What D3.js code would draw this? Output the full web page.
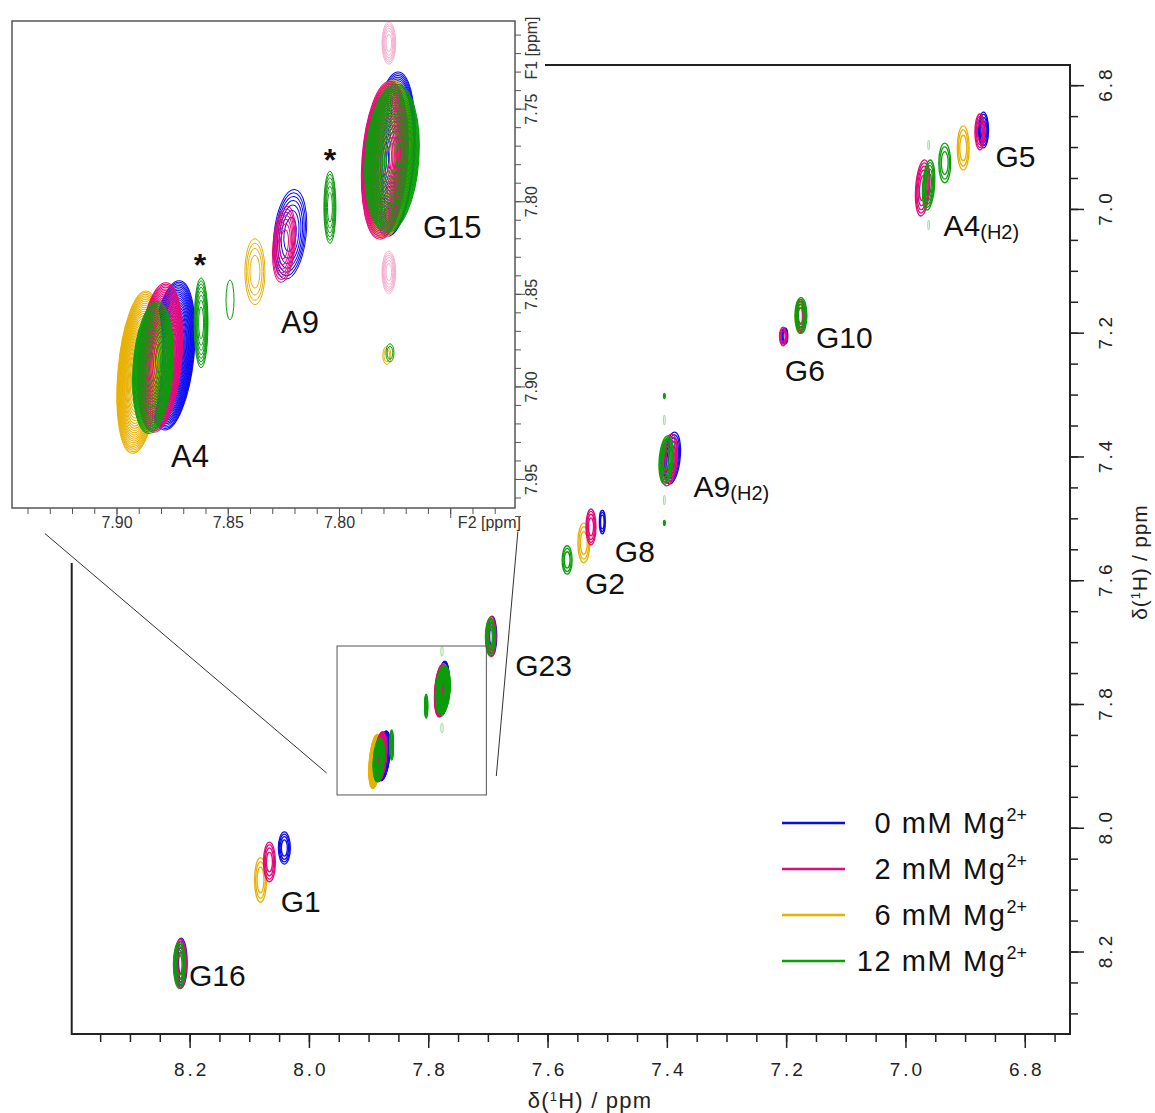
<!DOCTYPE html>
<html>
<head>
<meta charset="utf-8">
<script src="https://cdn.jsdelivr.net/npm/d3@7"></script>
<style>
body { margin: 0; background: #fff; }
svg { font-family: Arial, "Liberation Sans", Helvetica, sans-serif; }
</style>
</head>
<body>
<svg id="chart" width="1155" height="1113"></svg>
<script>

//////////////////////////////////////////////////////////////////////////////
// Data (ppm)

var conditions = ["0", "2", "6", "12"];
var colors = ["#0a0af0", "#e6087c", "#e8b000", "#0a9e0a"];
var drawOrder = [0, 2, 1, 3];

// peak: [F2 ppm, F1 ppm, half width F2, half width F1, tilt deg, levels, shown in main]
var mg0Peaks = [
    [6.870, 6.8716, 0.0084, 0.029, 0, 4, 1],
    [7.203, 7.2045, 0.0050, 0.013, 0, 3, 1],
    [7.392, 7.4017, 0.0134, 0.042, 6, 5, 1],
    [7.509, 7.5051, 0.0050, 0.019, 0, 3, 1],
    [7.694, 7.6893, 0.0080, 0.032, 0, 4, 1],
    [7.7760, 7.7743, 0.0099, 0.0444, 4, 25, 1],
    [7.8222, 7.8176, 0.0072, 0.0243, 6, 7, 0],
    [7.8753, 7.8830, 0.0099, 0.0405, 6, 25, 1],
    [8.042, 8.0319, 0.0100, 0.026, 0, 4, 1],
    [8.215, 8.2177, 0.0100, 0.040, 0, 5, 1]
];
var mg2Peaks = [
    [6.876, 6.8748, 0.0084, 0.029, 0, 4, 1],
    [6.972, 6.9653, 0.0117, 0.0454, 4, 5, 1],
    [7.177, 7.1722, 0.0080, 0.027, 0, 4, 1],
    [7.206, 7.2053, 0.0060, 0.015, 0, 3, 1],
    [7.397, 7.4049, 0.0134, 0.042, 6, 5, 1],
    [7.528, 7.5131, 0.0084, 0.029, 0, 4, 1],
    [7.695, 7.6901, 0.0080, 0.032, 0, 4, 1],
    [7.7796, 7.7776, 0.0103, 0.0427, 4, 25, 1],
    [7.8249, 7.8230, 0.0050, 0.0206, 5, 7, 0],
    [7.8807, 7.8841, 0.0099, 0.0405, 5, 25, 1],
    [8.067, 8.0545, 0.0100, 0.032, 0, 4, 1],
    [8.216, 8.2190, 0.0100, 0.040, 0, 5, 1]
];
var mg6Peaks = [
    [6.904, 6.9007, 0.0100, 0.0357, 0, 3, 1],
    [7.178, 7.1730, 0.0080, 0.027, 0, 4, 1],
    [7.540, 7.5390, 0.0100, 0.032, 0, 3, 1],
    [7.696, 7.6910, 0.0080, 0.032, 0, 4, 1],
    [7.7782, 7.7770, 0.0108, 0.0427, 4, 25, 1],
    [7.8380, 7.8378, 0.0045, 0.0178, 0, 4, 0],
    [7.8900, 7.8920, 0.0096, 0.0440, 5, 25, 1],
    [7.7787, 7.8830, 0.0018, 0.0049, 0, 2, 0],
    [8.082, 8.0836, 0.0100, 0.036, 0, 3, 1]
];
var mg12Peaks = [
    [6.935, 6.9249, 0.0100, 0.032, 0, 3, 1],
    [6.962, 6.9605, 0.0100, 0.0405, 4, 5, 1],
    [7.176, 7.1714, 0.0100, 0.029, 0, 5, 1],
    [7.402, 7.4049, 0.0117, 0.039, 4, 6, 1],
    [7.405, 7.3015, 0.0015, 0.004, 0, 2, 1],
    [7.405, 7.5067, 0.0015, 0.004, 0, 2, 1],
    [7.568, 7.5665, 0.0084, 0.023, 0, 3, 1],
    [7.697, 7.6909, 0.0080, 0.030, 0, 5, 1],
    [7.7764, 7.7765, 0.0121, 0.0400, 4, 25, 1],
    [7.8043, 7.8030, 0.0027, 0.0195, 0, 6, 1],
    [7.8492, 7.8530, 0.0018, 0.0108, 0, 1, 0],
    [7.8622, 7.8654, 0.0031, 0.0243, 0, 8, 1],
    [7.8838, 7.8895, 0.0090, 0.0357, 4, 22, 1],
    [7.7773, 7.8816, 0.0018, 0.0049, 0, 2, 0],
    [8.218, 8.2207, 0.0100, 0.038, 0, 5, 1]
];
var peakSets = [mg0Peaks, mg2Peaks, mg6Peaks, mg12Peaks];

// weak side bands
var insetSidebands = [
    [7.7778, 7.7143, 0.0031, 0.0114, 0, 6],
    [7.7778, 7.8381, 0.0031, 0.0114, 0, 6]
];
var mainSidebands = [
    [7.7778, 7.7143, 0.0020, 0.008, 0, 1],
    [7.7778, 7.8381, 0.0020, 0.008, 0, 1],
    [6.962, 6.8958, 0.0015, 0.008, 0, 1],
    [6.962, 7.0251, 0.0015, 0.008, 0, 1],
    [7.405, 7.3403, 0.0015, 0.008, 0, 1],
    [7.405, 7.4696, 0.0015, 0.008, 0, 1]
];

// [name, subscript, F2, F1]
var mainLabels = [
    ["G5", "", 6.850, 6.9316],
    ["A4", "(H2)", 6.937, 7.0429],
    ["G10", "", 7.151, 7.2238],
    ["G6", "", 7.203, 7.2772],
    ["A9", "(H2)", 7.356, 7.4646],
    ["G8", "", 7.488, 7.5696],
    ["G2", "", 7.538, 7.6214],
    ["G23", "", 7.655, 7.7539],
    ["G1", "", 8.048, 8.1354],
    ["G16", "", 8.202, 8.2549]
];
var insetLabels = [
    ["G15", 7.7625, 7.8197],
    ["A9", 7.8263, 7.8708],
    ["A4", 7.8757, 7.9432]
];
var starMarks = [
    [7.8627, 7.8400],
    [7.8043, 7.7835]
];

var mainTickLabels = [8.2, 8.0, 7.8, 7.6, 7.4, 7.2, 7.0, 6.8];
var insetTickLabels = [7.95, 7.90, 7.85, 7.80, 7.75];

// zoom box in the main spectrum, and its connector lines
var zoomBox = {x: [7.9537, 7.7034], y: [7.7055, 7.9462]};
var connectors = [
    {inset: [7.9324, 7.9792], main: [7.9712, 7.9107]},
    {inset: [7.7198, 7.9781], main: [7.6867, 7.9156]}
];

//////////////////////////////////////////////////////////////////////////////
// Scales

var xMain = d3.scaleLinear().domain([8.3985, 6.725]).range([71.7, 1070]);
var yMain = d3.scaleLinear().domain([6.7666, 8.3325]).range([65, 1034]);
var xIn = d3.scaleLinear().domain([7.9472, 7.7211]).range([12, 515]);
var yIn = d3.scaleLinear().domain([7.7024, 7.9654]).range([21, 508]);

var svg = d3.select("#chart");

function drawPeak(g, p, color, xs, ys, width) {
    var cx = xs(p[0]), cy = ys(p[1]);
    var rx = Math.abs(xs(p[0] + p[2]) - cx),
        ry = Math.abs(ys(p[1] + p[3]) - cy);
    var n = p[5];
    g.append("g")
        .attr("transform", "rotate(" + p[4] + "," + cx + "," + cy + ")")
        .selectAll("ellipse")
        .data(d3.range(n))
        .enter()
        .append("ellipse")
        .attr("cx", cx)
        .attr("cy", cy)
        .attr("rx", function(k) { return rx * Math.sqrt(1 - k / n); })
        .attr("ry", function(k) { return ry * Math.sqrt(1 - k / n); })
        .attr("fill", "none")
        .attr("stroke", color)
        .attr("stroke-width", width);
}

//////////////////////////////////////////////////////////////////////////////
// Main spectrum

var main = svg.append("g");

main.append("rect")
    .attr("x", xMain.range()[0]).attr("y", yMain.range()[0])
    .attr("width", xMain.range()[1] - xMain.range()[0])
    .attr("height", yMain.range()[1] - yMain.range()[0])
    .attr("fill", "none").attr("stroke", "#222").attr("stroke-width", 2);

mainSidebands.forEach(function(p) { drawPeak(main, p, "#9fd69f", xMain, yMain, 1); });
drawOrder.forEach(function(c) {
    peakSets[c].forEach(function(p) {
        if (p[6]) drawPeak(main, p, colors[c], xMain, yMain, 1.3);
    });
});

// x axis (bottom)
var yb = yMain.range()[1];
var mainMinor = d3.range(0, 33).map(function(i) { return 6.75 + i * 0.05; });
main.selectAll(".xminor").data(mainMinor).enter().append("line")
    .attr("x1", xMain).attr("x2", xMain)
    .attr("y1", yb).attr("y2", yb + 8)
    .attr("stroke", "#222").attr("stroke-width", 1.5);
main.selectAll(".xmajor").data(mainTickLabels).enter().append("line")
    .attr("x1", xMain).attr("x2", xMain)
    .attr("y1", yb).attr("y2", yb + 14)
    .attr("stroke", "#222").attr("stroke-width", 1.5);
main.selectAll(".xlab").data(mainTickLabels).enter().append("text")
    .attr("x", function(d) { return xMain(d) + 1.5; }).attr("y", yb + 42)
    .attr("text-anchor", "middle")
    .attr("font-size", 19).attr("letter-spacing", 3).attr("fill", "#222")
    .text(function(d) { return d.toFixed(1); });
main.append("text")
    .attr("x", 590).attr("y", 1108)
    .attr("text-anchor", "middle").attr("font-size", 22).attr("letter-spacing", 1.2)
    .attr("fill", "#222")
    .html("δ(<tspan baseline-shift='super' font-size='13'>1</tspan>H) / ppm");

// y axis (right)
var xr = xMain.range()[1];
var mainMinorY = d3.range(0, 31).map(function(i) { return 6.80 + i * 0.05; });
main.selectAll(".yminor").data(mainMinorY).enter().append("line")
    .attr("y1", yMain).attr("y2", yMain)
    .attr("x1", xr).attr("x2", xr + 8)
    .attr("stroke", "#222").attr("stroke-width", 1.5);
main.selectAll(".ymajor").data(mainTickLabels).enter().append("line")
    .attr("y1", yMain).attr("y2", yMain)
    .attr("x1", xr).attr("x2", xr + 14)
    .attr("stroke", "#222").attr("stroke-width", 1.5);
main.selectAll(".ylab").data(mainTickLabels).enter().append("text")
    .attr("transform", function(d) { return "translate(" + (xr + 42) + "," + (yMain(d) - 1.5) + ") rotate(-90)"; })
    .attr("text-anchor", "middle")
    .attr("font-size", 19).attr("letter-spacing", 3).attr("fill", "#222")
    .text(function(d) { return d.toFixed(1); });
main.append("text")
    .attr("transform", "translate(1147,562) rotate(-90)")
    .attr("text-anchor", "middle").attr("font-size", 21).attr("letter-spacing", 0.8)
    .attr("fill", "#222")
    .html("δ(<tspan baseline-shift='super' font-size='13'>1</tspan>H) / ppm");

// peak labels
var lab = main.selectAll(".plab").data(mainLabels).enter().append("text")
    .attr("x", function(d) { return xMain(d[2]); })
    .attr("y", function(d) { return yMain(d[3]); })
    .attr("font-size", 30).attr("fill", "#111");
lab.append("tspan").text(function(d) { return d[0]; });
lab.append("tspan").attr("font-size", 20).attr("dy", 3).text(function(d) { return d[1]; });

// zoom box
main.append("rect")
    .attr("x", xMain(zoomBox.x[0])).attr("y", yMain(zoomBox.y[0]))
    .attr("width", xMain(zoomBox.x[1]) - xMain(zoomBox.x[0]))
    .attr("height", yMain(zoomBox.y[1]) - yMain(zoomBox.y[0]))
    .attr("fill", "none").attr("stroke", "#555").attr("stroke-width", 1);

// legend
var legend = main.append("g");
var legY = d3.scaleLinear().domain([0, 3]).range([823, 961]);
conditions.forEach(function(c, i) {
    legend.append("line")
        .attr("x1", 782).attr("x2", 845)
        .attr("y1", legY(i)).attr("y2", legY(i))
        .attr("stroke", colors[i]).attr("stroke-width", 2.5);
    var t = legend.append("text")
        .attr("x", 1027).attr("y", legY(i) + 10)
        .attr("text-anchor", "end").attr("font-size", 29).attr("letter-spacing", 1.6)
        .attr("fill", "#111");
    t.append("tspan").text(c + " mM Mg");
    t.append("tspan").attr("font-size", 18).attr("letter-spacing", 0).attr("dy", -12).text("2+");
});

//////////////////////////////////////////////////////////////////////////////
// Inset

var inset = svg.append("g");
inset.append("rect")
    .attr("x", 0).attr("y", 0).attr("width", 545).attr("height", 563)
    .attr("fill", "#fff");

var ib = yIn.range()[1], ir = xIn.range()[1];

insetSidebands.forEach(function(p) { drawPeak(inset, p, "#f7b0d0", xIn, yIn, 1); });
drawOrder.forEach(function(c) {
    peakSets[c].forEach(function(p) {
        if (p[0] < 7.947 && p[0] > 7.721 && p[1] > 7.702 && p[1] < 7.967)
            drawPeak(inset, p, colors[c], xIn, yIn, 1);
    });
});

inset.append("rect")
    .attr("x", xIn.range()[0]).attr("y", yIn.range()[0])
    .attr("width", ir - xIn.range()[0])
    .attr("height", ib - yIn.range()[0])
    .attr("fill", "none").attr("stroke", "#555").attr("stroke-width", 1.5);

var inMinorX = d3.range(0, 22).map(function(i) { return 7.73 + i * 0.01; });
inset.selectAll(".ixminor").data(inMinorX).enter().append("line")
    .attr("x1", xIn).attr("x2", xIn)
    .attr("y1", ib).attr("y2", ib + 6)
    .attr("stroke", "#555").attr("stroke-width", 1);
inset.selectAll(".ixmajor").data([7.90, 7.85, 7.80, 7.75]).enter().append("line")
    .attr("x1", xIn).attr("x2", xIn)
    .attr("y1", ib).attr("y2", ib + 10)
    .attr("stroke", "#555").attr("stroke-width", 1);
inset.selectAll(".ixlab").data([7.90, 7.85, 7.80]).enter().append("text")
    .attr("x", xIn).attr("y", ib + 20)
    .attr("text-anchor", "middle").attr("font-size", 16).attr("fill", "#333")
    .text(function(d) { return d.toFixed(2); });
inset.append("text")
    .attr("x", 521).attr("y", ib + 20)
    .attr("text-anchor", "end").attr("font-size", 16).attr("fill", "#333")
    .text("F2 [ppm]");

var inMinorY = d3.range(0, 27).map(function(i) { return 7.71 + i * 0.01; });
inset.selectAll(".iyminor").data(inMinorY).enter().append("line")
    .attr("y1", yIn).attr("y2", yIn)
    .attr("x1", ir).attr("x2", ir + 6)
    .attr("stroke", "#555").attr("stroke-width", 1);
inset.selectAll(".iymajor").data(insetTickLabels).enter().append("line")
    .attr("y1", yIn).attr("y2", yIn)
    .attr("x1", ir).attr("x2", ir + 10)
    .attr("stroke", "#555").attr("stroke-width", 1);
inset.selectAll(".iylab").data(insetTickLabels).enter().append("text")
    .attr("transform", function(d) { return "translate(" + (ir + 22) + "," + yIn(d) + ") rotate(-90)"; })
    .attr("text-anchor", "middle").attr("font-size", 16).attr("fill", "#333")
    .text(function(d) { return d.toFixed(2); });
inset.append("text")
    .attr("transform", "translate(" + (ir + 22) + ",48) rotate(-90)")
    .attr("text-anchor", "middle").attr("font-size", 16).attr("fill", "#333")
    .text("F1 [ppm]");

inset.selectAll(".ilab").data(insetLabels).enter().append("text")
    .attr("x", function(d) { return xIn(d[1]); })
    .attr("y", function(d) { return yIn(d[2]); })
    .attr("font-size", 31).attr("fill", "#111")
    .text(function(d) { return d[0]; });
inset.selectAll(".star").data(starMarks).enter().append("text")
    .attr("x", function(d) { return xIn(d[0]); })
    .attr("y", function(d) { return yIn(d[1]); })
    .attr("text-anchor", "middle").attr("font-size", 32).attr("font-weight", "bold")
    .attr("fill", "#111")
    .text("*");

// connector lines
svg.selectAll(".conn").data(connectors).enter().append("line")
    .attr("x1", function(d) { return xIn(d.inset[0]); })
    .attr("y1", function(d) { return yIn(d.inset[1]); })
    .attr("x2", function(d) { return xMain(d.main[0]); })
    .attr("y2", function(d) { return yMain(d.main[1]); })
    .attr("stroke", "#333").attr("stroke-width", 1);

</script>
</body>
</html>
